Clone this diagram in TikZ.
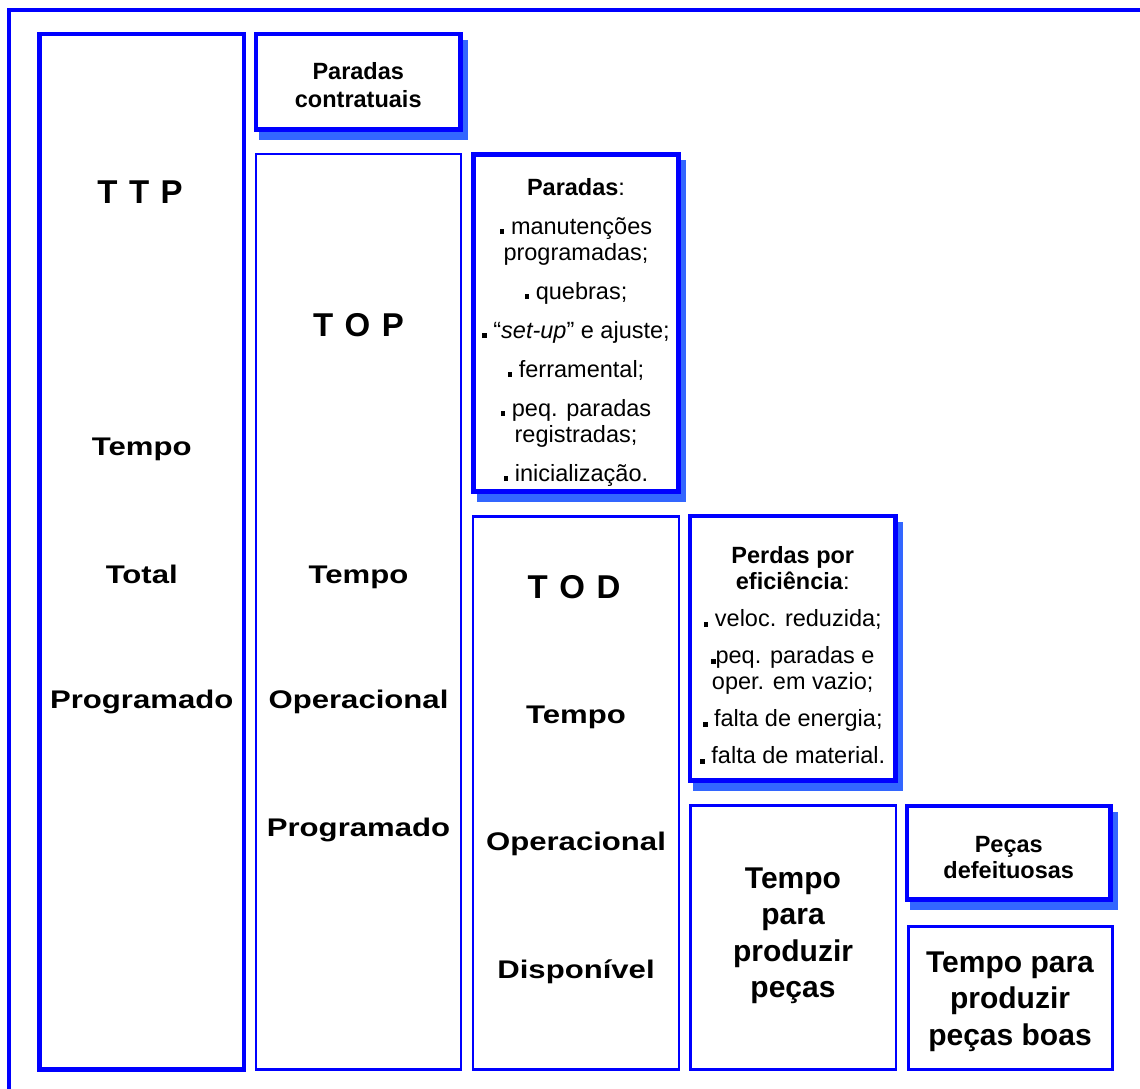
\documentclass[tikz,border=0pt]{standalone}
\usepackage{fontspec}
\setmainfont{Liberation Sans}
\newfontfamily\widesans{Liberation Sans}[FakeStretch=1.22]
\usetikzlibrary{shadows}
\definecolor{framebl}{RGB}{0,0,255}
\definecolor{shadebl}{RGB}{51,102,255}
\newcommand{\sqbullet}{\rule{4.6pt}{4.6pt}}
\newcommand{\acrosp}{\hspace{0.35em}}
\newcommand{\timebox}[6]{%
  \node[#6,anchor=north west,minimum width=#4pt,minimum height=#5pt] (#1) at (#2,#3) {};%
}
\newcommand{\colword}[5]{%
  \node[anchor=base,#4] (#1) at (#2,#3) {#5};%
}
\tikzset{
  thickbox/.style={draw=framebl,line width=4.2pt,fill=white,inner sep=0pt,outer sep=0pt},
  shadebox/.style={thickbox,drop shadow={fill=shadebl,draw=shadebl,line width=4.2pt,
      opacity=1,shadow xshift=5.5pt,shadow yshift=-8pt}},
  thinbox/.style={draw=framebl,line width=2.4pt,fill=white,inner sep=0pt,outer sep=0pt},
  acro/.style={font=\bfseries\fontsize{33}{36}\selectfont},
  bigword/.style={font=\widesans\bfseries\fontsize{25.5}{28}\selectfont},
  listtxt/.style={align=center,inner sep=0pt,font=\fontsize{23.5}{26}\selectfont},
  headtxt/.style={align=center,inner sep=0pt,font=\bfseries\fontsize{23.5}{#1}\selectfont},
  bigtxt/.style={align=center,inner sep=0pt,font=\bfseries\fontsize{30}{36.5}\selectfont}
}

\begin{document}
\begin{tikzpicture}[x=1pt,y=-1pt]
  \useasboundingbox (0,0) rectangle (1140,1088);
  \begin{scope}
    \clip (0,0) rectangle (1140,1088);
    \draw[framebl,line width=4pt] (8.7,9.5) rectangle (1170,1120);
  \end{scope}

  \timebox{ttp}{39.5}{34}{204.5}{1035.5}{thickbox}
  \timebox{contr}{256}{34}{204.5}{95.5}{shadebox}
  \timebox{top}{256}{154}{205}{915.5}{thinbox}
  \timebox{parad}{473.5}{154.5}{205}{337}{shadebox}
  \timebox{tod}{473}{516.5}{206}{553}{thinbox}
  \timebox{perd}{690}{516}{205.5}{264.5}{shadebox}
  \timebox{tpp}{690.5}{805.5}{205.5}{264}{thinbox}
  \timebox{defe}{907}{806}{203.5}{93.5}{shadebox}
  \timebox{tppb}{908.5}{926.5}{204}{143}{thinbox}

  \colword{ttpA}{140}{203}{acro}{T\acrosp T\acrosp P}
  \colword{ttpB}{141.75}{455.5}{bigword}{Tempo}
  \colword{ttpC}{141.75}{583.5}{bigword}{Total}
  \colword{ttpD}{141.75}{708.5}{bigword}{Programado}

  \colword{topA}{358.5}{336.5}{acro}{T\acrosp O\acrosp P}
  \colword{topB}{358.5}{583.5}{bigword}{Tempo}
  \colword{topC}{358.5}{708.5}{bigword}{Operacional}
  \colword{topD}{358.5}{836.5}{bigword}{Programado}

  \colword{todA}{574}{598.5}{acro}{T\acrosp O\acrosp D}
  \colword{todB}{576}{723.5}{bigword}{Tempo}
  \colword{todC}{576}{850.5}{bigword}{Operacional}
  \colword{todD}{576}{978.5}{bigword}{Disponível}

  \node[headtxt=28] (contrtxt) at (358.25,85) {Paradas\\contratuais};
  \node[headtxt=26] (defetxt) at (1008.75,858) {Peças\\defeituosas};

  \node[listtxt] (paradtxt) at (576,332) {%
    \textbf{Paradas}:\\[13pt]
    \sqbullet\ manutenções\\programadas;\\[13pt]
    \sqbullet\ quebras;\\[13pt]
    \sqbullet\ “\textit{set-up}” e ajuste;\\[13pt]
    \sqbullet\ ferramental;\\[13pt]
    \sqbullet\ peq. paradas\\registradas;\\[13pt]
    \sqbullet\ inicialização.};
  \node[listtxt] (perdtxt) at (792.75,655.5) {%
    \textbf{Perdas por}\\\textbf{eficiência}:\\[11pt]
    \sqbullet\ veloc. reduzida;\\[11pt]
    \sqbullet peq. paradas e\\oper. em vazio;\\[11pt]
    \sqbullet\ falta de energia;\\[11pt]
    \sqbullet\ falta de material.};

  \node[bigtxt] (tpptxt) at (793,936) {Tempo\\para\\produzir\\peças};
  \node[bigtxt] (tppbtxt) at (1010,1001.5) {Tempo para\\produzir\\peças boas};
\end{tikzpicture}
\end{document}
